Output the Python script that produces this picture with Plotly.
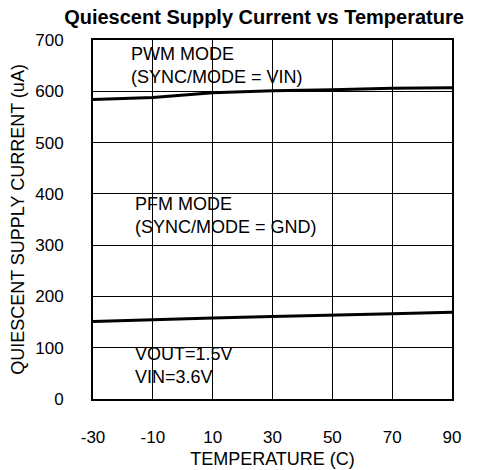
import plotly.graph_objects as go

temperature = [-30, -10, 10, 30, 50, 70, 90]
pwm_current = [584, 588, 597, 601, 603, 606, 607]
pfm_current = [151, 155, 158, 161, 163, 166, 169]

x_ticks = [-30, -10, 10, 30, 50, 70, 90]
x_tick_labels = ["-30", "-10", "10", "30", "50", "70", "90"]
y_ticks = [0, 100, 200, 300, 400, 500, 600, 700]

FONT = "Liberation Sans, Arial, sans-serif"

OFF = 8  # page body margin
W, H = 481, 470
ML, MR, MT, MB = 93, 29, 40, 71
PW = W - ML - MR
PH = H - MT - MB

def px(x):
    return (x - ML) / PW

def py(y):
    return (H - MB - y) / PH

fig = go.Figure()
fig.add_trace(go.Scatter(x=temperature, y=pwm_current, mode="lines",
                         line=dict(color="black", width=3), showlegend=False))
fig.add_trace(go.Scatter(x=temperature, y=pfm_current, mode="lines",
                         line=dict(color="black", width=3), showlegend=False))

shapes = []
boxes = [(125, 44, 185, 44), (128, 196, 217, 47), (111, 336, 129, 52)]
for (bx, by, bw, bh) in boxes:
    shapes.append(dict(type="rect", xref="paper", yref="paper",
                       x0=px(bx), x1=px(bx + bw), y0=py(by + bh), y1=py(by),
                       fillcolor="white", line=dict(width=0), layer="between"))
annotations = []
labels = [(130, 43, "PWM MODE<br>(SYNC/MODE = VIN)"),
          (134, 193, "PFM MODE<br>(SYNC/MODE = GND)"),
          (134, 343, "VOUT=1.5V<br>VIN=3.6V")]
for (tx, ty, t) in labels:
    annotations.append(dict(xref="paper", yref="paper", x=px(tx), y=py(ty),
                            xanchor="left", yanchor="top", align="left",
                            text=t, borderpad=0, showarrow=False,
                            font=dict(family=FONT, size=18, color="black")))

fig.update_layout(
    width=W - OFF, height=H - OFF,
    margin=dict(l=ML - OFF, r=MR, t=MT - OFF, b=MB, pad=0),
    plot_bgcolor="white",
    font=dict(family=FONT, size=17, color="black"),
    title=dict(text="<b>Quiescent Supply Current vs Temperature</b>",
               x=(264 - OFF) / (W - OFF), xanchor="center",
               y=1 - (16.5 - OFF) / (H - OFF), yanchor="middle",
               font=dict(family=FONT, size=20, color="black")),
    annotations=annotations,
    shapes=shapes,
)
fig.update_xaxes(range=[-30, 90], tickvals=x_ticks, ticktext=x_tick_labels,
                 ticks="outside", ticklen=22, tickcolor="rgba(0,0,0,0)",
                 showgrid=True, automargin=False,
                 gridcolor="black", gridwidth=1, showline=True, linecolor="black",
                 linewidth=2, mirror=True, zeroline=False,
                 tickfont=dict(size=17),
                 title=dict(text="TEMPERATURE (C)", font=dict(size=18), standoff=6))
fig.update_yaxes(range=[0, 700], tickvals=y_ticks,
                 ticks="outside", ticklen=24, tickcolor="rgba(0,0,0,0)",
                 showgrid=True, automargin=False,
                 gridcolor="black", gridwidth=1, showline=True, linecolor="black",
                 linewidth=2, mirror=True, zeroline=False,
                 tickfont=dict(size=17),
                 title=dict(text="QUIESCENT SUPPLY CURRENT (uA)", font=dict(size=18), standoff=8))

fig.write_html("out.html")
